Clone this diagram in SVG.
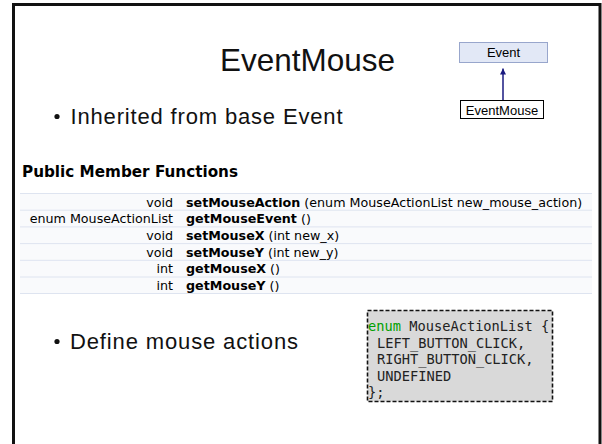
<svg xmlns="http://www.w3.org/2000/svg" width="602" height="444" viewBox="0 0 602 444">
  <style>
    .slide { font-family: "Liberation Sans", Arial, sans-serif; fill: #111; }
    .node-label { font-family: "Liberation Sans", Arial, sans-serif; font-size: 13px; fill: #000; text-anchor: middle; }
    .tbl { font-family: "DejaVu Sans", Verdana, sans-serif; font-size: 12.7px; fill: #000; }
    .tbl .ret { text-anchor: end; }
    .tbl .fn { font-weight: bold; }
    .row { fill: #f9fafc; }
    .sep { stroke: #dee4f0; stroke-width: 1; }
    .code { font-family: "DejaVu Sans Mono", Consolas, monospace; font-size: 13.7px; fill: #222; }
    .kw { fill: #00a000; }
  </style>
  <defs>
    <marker id="inherit-head" viewBox="0 0 10 10" refX="10" refY="5" markerWidth="6" markerHeight="6" markerUnits="userSpaceOnUse" orient="auto">
      <path d="M0,0 L10,5 L0,10 z" fill="#1a1a80"/>
    </marker>
  </defs>

  <rect width="602" height="444" fill="#fff"/>
  <!-- slide frame (open at the bottom) -->
  <path d="M13.5,444 V4.5 H600 V444" fill="none" stroke="#111" stroke-width="3"/>

  <!-- title and bullets -->
  <text class="slide" x="220" y="70.5" font-size="31.5" textLength="175" lengthAdjust="spacingAndGlyphs">EventMouse</text>
  <circle cx="57" cy="116.5" r="2.6" fill="#111"/>
  <text class="slide" x="70.5" y="124" font-size="22" textLength="272" lengthAdjust="spacing">Inherited from base Event</text>
  <circle cx="57" cy="341.5" r="2.6" fill="#111"/>
  <text class="slide" x="70" y="349" font-size="22" textLength="228" lengthAdjust="spacing">Define mouse actions</text>

  <!-- inheritance graph -->
  <g id="connectors">
    <line x1="503" y1="100" x2="503" y2="68.5" stroke="#1a1a80" stroke-width="1.5" marker-end="url(#inherit-head)"/>
  </g>
  <g id="node-event">
    <rect x="459.5" y="42.5" width="88" height="20" fill="#e2e8f6" stroke="#98a6cc" stroke-width="1"/>
    <text class="node-label" x="503.5" y="57.3">Event</text>
  </g>
  <g id="node-eventmouse">
    <rect x="460.5" y="100.5" width="83" height="18" fill="#fff" stroke="#000" stroke-width="1"/>
    <text class="node-label" x="502" y="114.5">EventMouse</text>
  </g>

  <!-- member function table -->
  <g id="member-table">
    <text x="22" y="177" font-family="'DejaVu Sans', Verdana, sans-serif" font-weight="bold" font-size="15" textLength="216" lengthAdjust="spacingAndGlyphs" fill="#000">Public Member Functions</text>
    <rect class="row" x="20" y="193.5" width="572" height="100"/>
    <line class="sep" x1="20" y1="193.5" x2="592" y2="193.5"/>
    <line class="sep" x1="20" y1="210.2" x2="592" y2="210.2"/>
    <line class="sep" x1="20" y1="226.9" x2="592" y2="226.9"/>
    <line class="sep" x1="20" y1="243.6" x2="592" y2="243.6"/>
    <line class="sep" x1="20" y1="260.3" x2="592" y2="260.3"/>
    <line class="sep" x1="20" y1="277" x2="592" y2="277"/>
    <line class="sep" x1="20" y1="293.5" x2="592" y2="293.5"/>
    <g class="tbl">
      <text class="ret" x="173" y="206.5">void</text>
      <text x="186" y="206.5"><tspan class="fn">setMouseAction</tspan> (enum MouseActionList new_mouse_action)</text>
      <text class="ret" x="173" y="223.2">enum MouseActionList</text>
      <text x="186" y="223.2"><tspan class="fn">getMouseEvent</tspan> ()</text>
      <text class="ret" x="173" y="239.9">void</text>
      <text x="186" y="239.9"><tspan class="fn">setMouseX</tspan> (int new_x)</text>
      <text class="ret" x="173" y="256.6">void</text>
      <text x="186" y="256.6"><tspan class="fn">setMouseY</tspan> (int new_y)</text>
      <text class="ret" x="173" y="273.3">int</text>
      <text x="186" y="273.3"><tspan class="fn">getMouseX</tspan> ()</text>
      <text class="ret" x="173" y="290">int</text>
      <text x="186" y="290"><tspan class="fn">getMouseY</tspan> ()</text>
    </g>
  </g>

  <!-- enum declaration snippet -->
  <g id="enum-box">
    <rect x="367.5" y="310.5" width="185" height="91" fill="#d9d9d9" stroke="#111" stroke-width="1.6" stroke-dasharray="4 2"/>
    <text class="code" x="368" y="331"><tspan class="kw">enum</tspan> MouseActionList {</text>
    <text class="code" x="377" y="347.5">LEFT_BUTTON_CLICK,</text>
    <text class="code" x="377" y="364">RIGHT_BUTTON_CLICK,</text>
    <text class="code" x="377" y="380.5">UNDEFINED</text>
    <text class="code" x="368" y="397">};</text>
  </g>
</svg>
